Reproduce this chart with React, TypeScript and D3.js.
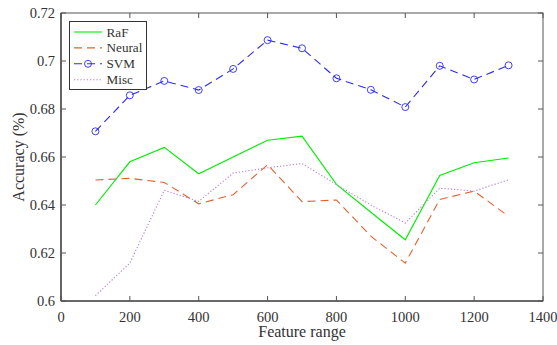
import React from "react";
import * as d3 from "d3";

const xValues = [100, 200, 300, 400, 500, 600, 700, 800, 900, 1000, 1100, 1200, 1300];
const rafValues = [0.640, 0.658, 0.664, 0.653, 0.660, 0.667, 0.6687, 0.6486, 0.637, 0.6255, 0.6523, 0.6576, 0.6596];
const neuralValues = [0.6504, 0.6511, 0.6494, 0.6405, 0.6443, 0.6568, 0.6414, 0.6421, 0.627, 0.6158, 0.6423, 0.6458, 0.6353];
const svmValues = [0.6707, 0.6857, 0.6917, 0.6879, 0.6967, 0.7087, 0.7053, 0.6928, 0.688, 0.6808, 0.698, 0.6923, 0.6982];
const miscValues = [0.6022, 0.6158, 0.6461, 0.6415, 0.6533, 0.6555, 0.6573, 0.6485, 0.640, 0.6325, 0.647, 0.6458, 0.6505];
const xTicks = [0, 200, 400, 600, 800, 1000, 1200, 1400];
const yTicks = [0.6, 0.62, 0.64, 0.66, 0.68, 0.7, 0.72];
const seriesNames = ["RaF", "Neural", "SVM", "Misc"];

const W = 557, H = 345;
const L = 61, R = 543, T = 13, B = 301;
const FONT = "Liberation Serif";

export default function App() {
  const x = d3.scaleLinear().domain([0, 1400]).range([L, R]);
  const y = d3.scaleLinear().domain([0.6, 0.72]).range([B, T]);
  const line = (vals: number[]) =>
    d3.line<number>().x((_, i) => x(xValues[i])).y((v) => y(v))(vals) || "";

  const series = [
    { name: seriesNames[0], vals: rafValues, color: "#00ee00", dash: "none", marker: false },
    { name: seriesNames[1], vals: neuralValues, color: "#e0622f", dash: "8,5", marker: false },
    { name: seriesNames[2], vals: svmValues, color: "#2b2bf0", dash: "8,5", marker: true },
    { name: seriesNames[3], vals: miscValues, color: "#b57ed0", dash: "1.2,2", marker: false },
  ];
  const axisColor = "#555";
  const tick = 5;

  return (
    <svg width={W} height={H} style={{ position: "absolute", left: 0, top: 0 }}>
      <rect x={0} y={0} width={W} height={H} fill="#fff" />
      {series.map((s) => (
        <g key={s.name}>
          <path d={line(s.vals)} fill="none" stroke={s.color} strokeWidth={1.1} strokeDasharray={s.dash} />
          {s.marker &&
            s.vals.map((v, i) => (
              <circle key={i} cx={x(xValues[i])} cy={y(v)} r={3.5} fill="none" stroke={s.color} strokeWidth={0.9} />
            ))}
        </g>
      ))}
      <rect x={L} y={T} width={R - L} height={B - T} fill="none" stroke={axisColor} strokeWidth={1} />
      <line x1={L} y1={B} x2={R} y2={B} stroke={axisColor} strokeWidth={1.6} />
      <line x1={L} y1={T} x2={L} y2={B} stroke={axisColor} strokeWidth={1.6} />
      {xTicks.map((t) => (
        <g key={"x" + t}>
          <line x1={x(t)} x2={x(t)} y1={B} y2={B - tick} stroke={axisColor} />
          <line x1={x(t)} x2={x(t)} y1={T} y2={T + tick} stroke={axisColor} />
          <text x={x(t)} y={B + 20.5} textAnchor="middle" fontSize={14.5} fill="#333" style={{ fontFamily: FONT }}>{t}</text>
        </g>
      ))}
      {yTicks.map((t) => (
        <g key={"y" + t}>
          <line x1={L} x2={L + tick} y1={y(t)} y2={y(t)} stroke={axisColor} />
          <line x1={R} x2={R - tick} y1={y(t)} y2={y(t)} stroke={axisColor} />
          <text x={L - 6} y={y(t) + 5} textAnchor="end" fontSize={14.5} fill="#333" style={{ fontFamily: FONT }}>{String(t)}</text>
        </g>
      ))}
      <text x={(L + R) / 2} y={337} textAnchor="middle" fontSize={16} fill="#333" style={{ fontFamily: FONT }}>Feature range</text>
      <text transform={`translate(24, ${(T + B) / 2}) rotate(-90)`} textAnchor="middle" fontSize={16} fill="#333" style={{ fontFamily: FONT }}>Accuracy (%)</text>
      <rect x={69.5} y={21.5} width={77} height={68} fill="#fff" stroke="#333" strokeWidth={1} />
      {series.map((s, i) => {
        const ly = 32 + i * 15.9;
        return (
          <g key={"lg" + s.name}>
            <line x1={74} x2={102} y1={ly} y2={ly} stroke={s.color} strokeWidth={1.1} strokeDasharray={s.dash} />
            {s.marker && <circle cx={88} cy={ly} r={3.5} fill="none" stroke={s.color} strokeWidth={0.9} />}
            <text x={106.5} y={ly + 4.5} fontSize={13.2} fill="#333" style={{ fontFamily: FONT }}>{s.name}</text>
          </g>
        );
      })}
    </svg>
  );
}
